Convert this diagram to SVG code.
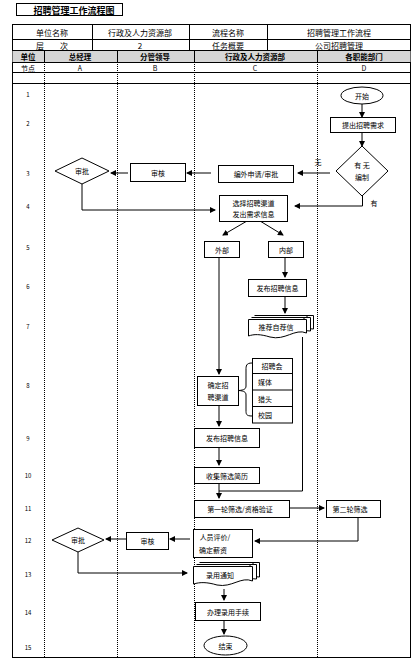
<svg xmlns="http://www.w3.org/2000/svg" width="416" height="660" viewBox="0 0 416 660">
<style>
text{font-family:"Noto Sans CJK SC","Liberation Sans",sans-serif;fill:#000;text-anchor:middle;dominant-baseline:central}
.t{font-size:8px}
.s{font-size:7px}
.h{font-size:7.5px;font-weight:bold}
.ti{font-size:9px;font-weight:bold}
.n{font-size:7px}
.r{font-size:6px}
.b{fill:#fff;stroke:#000;stroke-width:1}
.g{fill:none;stroke:#000;stroke-width:1}
.d{fill:none;stroke:#000;stroke-width:1;stroke-dasharray:1 1}
.c{fill:none;stroke:#000;stroke-width:1;marker-end:url(#ah)}
</style>
<defs>
<marker id="ah" markerWidth="6" markerHeight="6" refX="5" refY="3" orient="auto" markerUnits="userSpaceOnUse">
<path d="M0,0 L6,3 L0,6 Z" fill="#000"/>
</marker>
</defs>
<rect width="416" height="660" fill="#fff"/>
<g id="title">
<rect x="16.5" y="3.5" width="106" height="12" class="b"/>
<text x="74" y="10" class="ti">招聘管理工作流程图</text>
</g>
<g id="table">
<rect x="12.5" y="24.5" width="398" height="633" class="g"/>
<rect x="12.5" y="50.5" width="398" height="11.5" fill="#d6d6d6" stroke="none"/>
<line x1="12" y1="39.5" x2="411" y2="39.5" class="g"/>
<line x1="12" y1="50.5" x2="411" y2="50.5" class="g"/>
<line x1="12" y1="62.5" x2="411" y2="62.5" class="g"/>
<line x1="12" y1="72.5" x2="411" y2="72.5" class="g"/>
<line x1="12" y1="83.5" x2="411" y2="83.5" class="g"/>
<line x1="92.5" y1="24" x2="92.5" y2="50" class="g"/>
<line x1="189.5" y1="24" x2="189.5" y2="50" class="g"/>
<line x1="267.5" y1="24" x2="267.5" y2="50" class="g"/>
<line x1="44.5" y1="50" x2="44.5" y2="62" class="g"/>
<line x1="117.5" y1="50" x2="117.5" y2="62" class="g"/>
<line x1="194.5" y1="50" x2="194.5" y2="62" class="g"/>
<line x1="317.5" y1="50" x2="317.5" y2="62" class="g"/>
<line x1="44.5" y1="62" x2="44.5" y2="657" class="d"/>
<line x1="117.5" y1="62" x2="117.5" y2="657" class="d"/>
<line x1="194.5" y1="62" x2="194.5" y2="657" class="d"/>
<line x1="317.5" y1="62" x2="317.5" y2="657" class="d"/>
<text x="52" y="32" class="t">单位名称</text>
<text x="140" y="32" class="t">行政及人力资源部</text>
<text x="228" y="32" class="t">流程名称</text>
<text x="339" y="32" class="t">招聘管理工作流程</text>
<text x="52" y="45" class="t">层　　次</text>
<text x="140" y="45" class="t">2</text>
<text x="228" y="45" class="t">任务概要</text>
<text x="339" y="45" class="t">公司招聘管理</text>
<text x="28" y="56.5" class="h">单位</text>
<text x="80" y="56.5" class="h">总经理</text>
<text x="155" y="56.5" class="h">分管领导</text>
<text x="255" y="56.5" class="h">行政及人力资源部</text>
<text x="364" y="56.5" class="h">各职能部门</text>
<text x="28" y="67.5" class="s">节点</text>
<text x="80" y="67.5" class="s">A</text>
<text x="155" y="67.5" class="s">B</text>
<text x="255" y="67.5" class="s">C</text>
<text x="364" y="67.5" class="s">D</text>
<text x="28" y="94" class="r">1</text>
<text x="28" y="123" class="r">2</text>
<text x="28" y="173" class="r">3</text>
<text x="28" y="206" class="r">4</text>
<text x="28" y="247" class="r">5</text>
<text x="28" y="286" class="r">6</text>
<text x="28" y="326" class="r">7</text>
<text x="28" y="385" class="r">8</text>
<text x="28" y="438" class="r">9</text>
<text x="28" y="475" class="r">10</text>
<text x="28" y="508" class="r">11</text>
<text x="28" y="540" class="r">12</text>
<text x="28" y="574" class="r">13</text>
<text x="28" y="612" class="r">14</text>
<text x="28" y="647" class="r">15</text>
</g>
<g id="connectors">
<line x1="362" y1="104" x2="362" y2="117" class="c"/>
<line x1="362" y1="132" x2="362" y2="146" class="c"/>
<line x1="330" y1="173" x2="298" y2="173" class="c"/>
<line x1="211" y1="173" x2="187" y2="173" class="c"/>
<line x1="128" y1="173" x2="111" y2="173" class="c"/>
<polyline points="82,184 82,210 215,210" class="c"/>
<polyline points="362.5,196 362.5,206 295,206" class="c"/>
<line x1="247" y1="221" x2="223" y2="235" class="c"/>
<line x1="260" y1="221" x2="283" y2="235" class="c"/>
<line x1="285" y1="257" x2="285" y2="277" class="c"/>
<line x1="285" y1="296" x2="285" y2="313" class="c"/>
<line x1="219" y1="257" x2="219" y2="374" class="c"/>
<line x1="219" y1="405" x2="219" y2="426" class="c"/>
<line x1="219" y1="447" x2="219" y2="465" class="c"/>
<polyline points="302.5,337 302.5,491 219,491" class="g"/>
<line x1="219" y1="483" x2="219" y2="498" class="c"/>
<line x1="289" y1="508" x2="324" y2="508" class="c"/>
<polyline points="358,517 358,541 255,541" class="c"/>
<line x1="190" y1="539" x2="170" y2="539" class="c"/>
<line x1="126" y1="539" x2="106" y2="539" class="c"/>
<polyline points="78,552 78,573 187,573" class="c"/>
<line x1="224" y1="589" x2="224" y2="600" class="c"/>
<line x1="224" y1="620" x2="224" y2="634" class="c"/>
<text x="318" y="162" class="n">无</text>
<text x="374" y="203" class="n">有</text>
</g>
<g id="start">
<ellipse cx="362" cy="95.5" rx="21" ry="8.5" class="b"/>
<text x="362" y="95.5" class="n">开始</text>
</g>
<g id="need">
<rect x="330.5" y="117.5" width="65" height="15" class="b"/>
<text x="363" y="125" class="n">提出招聘需求</text>
</g>
<g id="quota">
<polygon points="362,146 388,171 362,196 336,171" class="b"/>
<text x="362" y="165" class="n">有 无</text>
<text x="362" y="177" class="n">编制</text>
</g>
<g id="extra">
<rect x="218.5" y="165.5" width="75" height="17" class="b"/>
<text x="256" y="174" class="n">编外申请/审批</text>
</g>
<g id="reviewB1">
<rect x="130.5" y="163.5" width="55" height="18" class="b"/>
<text x="158" y="172.5" class="n">审核</text>
</g>
<g id="approveA1">
<polygon points="82,158 109,171 82,184 55,171" class="b"/>
<text x="82" y="171" class="n">审批</text>
</g>
<g id="channel">
<rect x="219.5" y="195.5" width="68" height="26" class="b"/>
<text x="253.5" y="203" class="n">选择招聘渠道</text>
<text x="253.5" y="214" class="n">发出需求信息</text>
</g>
<g id="external">
<rect x="204.5" y="241.5" width="35" height="16" class="b"/>
<text x="222" y="249.5" class="n">外部</text>
</g>
<g id="internal">
<rect x="268.5" y="241.5" width="35" height="16" class="b"/>
<text x="286" y="249.5" class="n">内部</text>
</g>
<g id="publish1">
<rect x="248.5" y="279.5" width="58" height="17" class="b"/>
<text x="277.5" y="288" class="n">发布招聘信息</text>
</g>
<g id="recommend">
<path d="M254.5,315.5 H313.5 V329 Q310,328 307,330 V315.5" class="b"/>
<path d="M251.5,317.5 H310.5 V331 Q307,330 304,332 V317.5" class="b"/>
<path d="M248.5,319.5 H306.5 V333 C295,328 285,341 270,337 C260,334 254,334 248.5,336 Z" class="b"/>
<text x="276" y="327" class="n">推荐自荐信</text>
</g>
<g id="confirm">
<rect x="197.5" y="376.5" width="41" height="29" class="b"/>
<text x="218" y="385" class="n">确定招</text>
<text x="218" y="397" class="n">聘渠道</text>
</g>
<g id="brace">
<path d="M252,363 C246,363 246,366 246,370 V386 C246,389 244,390 239,390.5 C244,391 246,392 246,395 V410 C246,414 246,416 252,416" class="g"/>
</g>
<g id="channels">
<rect x="252.5" y="358.5" width="40" height="64.5" class="b"/>
<line x1="252" y1="373.5" x2="292" y2="373.5" class="g"/>
<line x1="252" y1="390" x2="292" y2="390" class="g"/>
<line x1="252" y1="406.5" x2="292" y2="406.5" class="g"/>
<text x="272" y="366" class="n">招聘会</text>
<text x="265" y="382" class="n">媒体</text>
<text x="265" y="398.5" class="n">猎头</text>
<text x="265" y="415" class="n">校园</text>
</g>
<g id="publish2">
<rect x="194.5" y="428.5" width="65" height="19" class="b"/>
<text x="227" y="438" class="n">发布招聘信息</text>
</g>
<g id="collect">
<rect x="194.5" y="467.5" width="65" height="16" class="b"/>
<text x="227" y="475.5" class="n">收集筛选简历</text>
</g>
<g id="first">
<rect x="194.5" y="500.5" width="95" height="17" class="b"/>
<text x="240" y="509" class="n">第一轮筛选/资格验证</text>
</g>
<g id="second">
<rect x="326.5" y="500.5" width="54" height="17" class="b"/>
<text x="350" y="509" class="n">第二轮筛选</text>
</g>
<g id="evaluate">
<rect x="193.5" y="529.5" width="59" height="28" class="b"/>
<text x="215" y="537" class="n">人员评价/</text>
<text x="213" y="550" class="n">确定薪资</text>
</g>
<g id="reviewB2">
<rect x="126.5" y="532.5" width="42" height="17" class="b"/>
<text x="147.5" y="541" class="n">审核</text>
</g>
<g id="approveA2">
<polygon points="78,528 104,540 78,552 52,540" class="b"/>
<text x="78" y="540" class="n">审批</text>
</g>
<g id="offer">
<path d="M199.5,562.5 H259.5 V577 Q256,576 253,578 V562.5" class="b"/>
<path d="M196.5,564.5 H256.5 V579 Q253,578 250,580 V564.5" class="b"/>
<path d="M193.5,566.5 H252.5 V581 C241,576 232,588 217,585 C207,582 200,582 193.5,584 Z" class="b"/>
<text x="220" y="574.5" class="n">录用通知</text>
</g>
<g id="hire">
<rect x="195.5" y="602.5" width="65" height="18" class="b"/>
<text x="228" y="611.5" class="n">办理录用手续</text>
</g>
<g id="end">
<ellipse cx="225.5" cy="645.5" rx="21.5" ry="9.5" class="b"/>
<text x="225.5" y="645.5" class="n">结束</text>
</g>
</svg>
